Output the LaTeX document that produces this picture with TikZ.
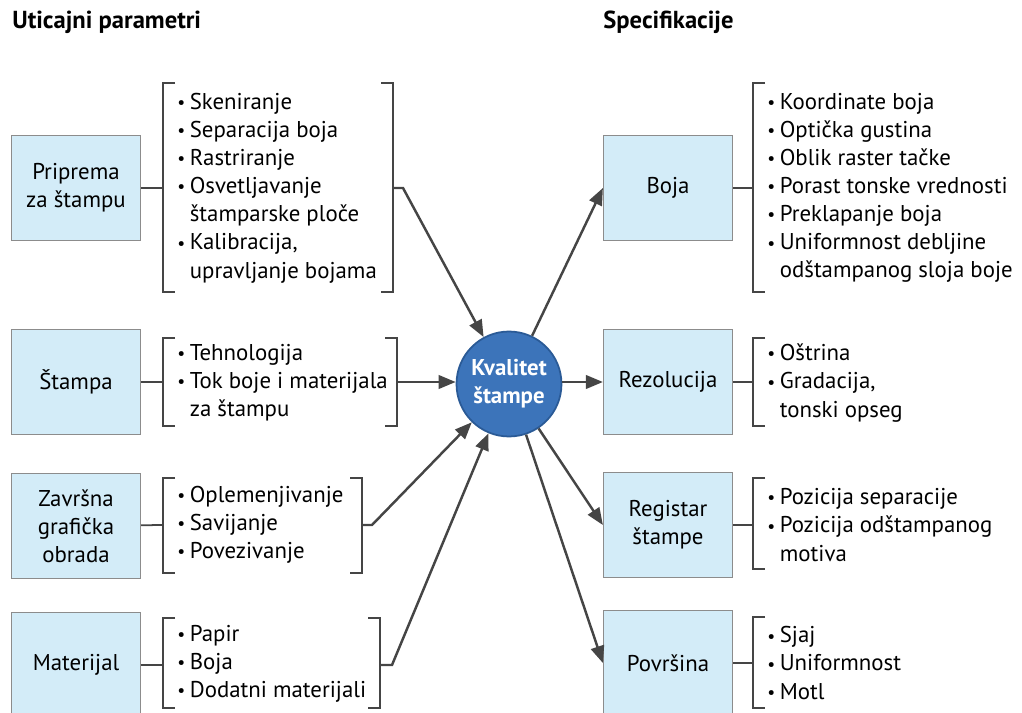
\documentclass[tikz,border=0pt]{standalone}
\usepackage{fontspec}
\setmainfont{PT Sans}
\usetikzlibrary{arrows.meta,positioning}

\definecolor{boxblue}{HTML}{D3ECF8}
\definecolor{boxline}{HTML}{8C8C8C}
\definecolor{ballblue}{HTML}{3C74BA}
\definecolor{ballline}{HTML}{2A5A96}
\definecolor{linegray}{HTML}{454545}

\newcommand\itembul{\makebox[0.25cm][l]{\raisebox{0.5pt}{\fontsize{10}{10}\selectfont\textbullet}}}
\newcommand\itemgap{\hspace*{0.25cm}}

\begin{document}
\begin{tikzpicture}[x=0.02cm, y=-0.02cm,
    factor/.style={draw=boxline, fill=boxblue, line width=0.7pt, minimum width=2.58cm,
      minimum height=2.1cm, align=center, font=\fontsize{13}{16}\selectfont},
    itemlist/.style={anchor=west, align=left, inner sep=0pt, font=\fontsize{13}{16}\selectfont},
    brack/.style={draw=linegray, line width=1pt},
    flow/.style={draw=linegray, line width=1.4pt, -{Triangle[length=0.34cm,width=0.27cm]}},
    head/.style={anchor=west, inner sep=0pt, font=\fontsize{14}{16}\selectfont\bfseries}]
    \useasboundingbox (0,0) rectangle (1022,713);
    \clip (0,0) rectangle (1022,713);

    % Headings
    \node[head] (hleft) at (12,22) {Uticajni parametri};
    \node[head] (hright) at (603,22) {Specifikacije};

    % Quality ball
    \node[circle, draw=ballline, fill=ballblue, line width=1pt, minimum size=2.1cm,
      inner sep=0pt, align=center, text=white, font=\fontsize{13}{16}\selectfont\bfseries]
      (kq) at (509,384) {Kvalitet\\štampe};

    % Left side: factors
    \node[factor] (priprema) at (76,188) {Priprema\\za štampu};
    \node[factor] (stampa) at (76,382) {Štampa};
    \node[factor] (zavrsna) at (76,526) {Završna\\grafička\\obrada};
    \node[factor] (materijal) at (76,665) {Materijal};

    \node[itemlist] (lpriprema) at (177,188) {\itembul Skeniranje\\\itembul Separacija boja\\\itembul Rastriranje\\
      \itembul Osvetljavanje\\\itemgap štamparske ploče\\\itembul Kalibracija,\\\itemgap upravljanje bojama};
    \node[itemlist] (lstampa) at (177,383) {\itembul Tehnologija\\\itembul Tok boje i materijala\\\itemgap za štampu};
    \node[itemlist] (lzavrsna) at (177,525) {\itembul Oplemenjivanje\\\itembul Savijanje\\\itembul Povezivanje};
    \node[itemlist] (lmaterijal) at (177,664) {\itembul Papir\\\itembul Boja\\\itembul Dodatni materijali};

    % Left brackets
    \draw[brack] (175,83) -| (163,292) -- (175,292);
    \draw[brack] (381,83) -| (393,292) -- (381,292);
    \draw[brack] (175,338) -| (163,426) -- (175,426);
    \draw[brack] (385,338) -| (397,426) -- (385,426);
    \draw[brack] (175,478) -| (163,573) -- (175,573);
    \draw[brack] (350,478) -| (362,573) -- (350,573);
    \draw[brack] (175,618) -| (163,708) -- (175,708);
    \draw[brack] (368,618) -| (380,708) -- (368,708);
    \coordinate (bpriprema) at (163,188);
    \coordinate (bstampa) at (163,382);
    \coordinate (bzavrsna) at (163,525);
    \coordinate (bmaterijal) at (163,665);
    \coordinate (opriprema) at (393,188);
    \coordinate (ostampa) at (397,382);
    \coordinate (ozavrsna) at (362,525);
    \coordinate (omaterijal) at (380,665);
    \draw[brack] (priprema) -- (bpriprema);
    \draw[brack] (stampa) -- (bstampa);
    \draw[brack] (zavrsna) -- (bzavrsna);
    \draw[brack] (materijal) -- (bmaterijal);

    % Arrows into the ball
    \draw[flow] (opriprema) -- ++(10,0) -- (kq);
    \draw[flow] (ostampa) -- (kq.west |- ostampa);
    \draw[flow] (ozavrsna) -- ++(10,0) -- (kq);
    \draw[flow] (omaterijal) -- ++(12,0) -- (kq);

    % Right side: specifications
    \node[factor] (boja) at (668,188) {Boja};
    \node[factor] (rezolucija) at (668,382) {Rezolucija};
    \node[factor] (registar) at (668,525) {Registar\\štampe};
    \node[factor] (povrsina) at (668,663) {Površina};

    \node[itemlist] (sboja) at (767,188) {\itembul Koordinate boja\\\itembul Optička gustina\\\itembul Oblik raster tačke\\
      \itembul Porast tonske vrednosti\\\itembul Preklapanje boja\\\itembul Uniformnost debljine\\\itemgap odštampanog sloja boje};
    \node[itemlist] (srezolucija) at (767,383) {\itembul Oštrina\\\itembul Gradacija,\\\itemgap tonski opseg};
    \node[itemlist] (sregistar) at (767,525) {\itembul Pozicija separacije\\\itembul Pozicija odštampanog\\\itemgap motiva};
    \node[itemlist] (spovrsina) at (767,663) {\itembul Sjaj\\\itembul Uniformnost\\\itembul Motl};

    % Right brackets
    \draw[brack] (765,83) -| (753,292) -- (765,292);
    \draw[brack] (765,338) -| (753,426) -- (765,426);
    \draw[brack] (765,478) -| (753,569) -- (765,569);
    \draw[brack] (765,617) -| (753,708) -- (765,708);
    \coordinate (cboja) at (753,188);
    \coordinate (crezolucija) at (753,382);
    \coordinate (cregistar) at (753,525);
    \coordinate (cpovrsina) at (753,663);
    \draw[brack] (boja) -- (cboja);
    \draw[brack] (rezolucija) -- (crezolucija);
    \draw[brack] (registar) -- (cregistar);
    \draw[brack] (povrsina) -- (cpovrsina);

    % Arrows out of the ball
    \draw[flow] (kq) -- (boja.west);
    \draw[flow] (kq.east |- rezolucija) -- (rezolucija.west);
    \draw[flow] (kq) -- (registar.west);
    \draw[flow] (kq) -- (povrsina.west);
\end{tikzpicture}
\end{document}
